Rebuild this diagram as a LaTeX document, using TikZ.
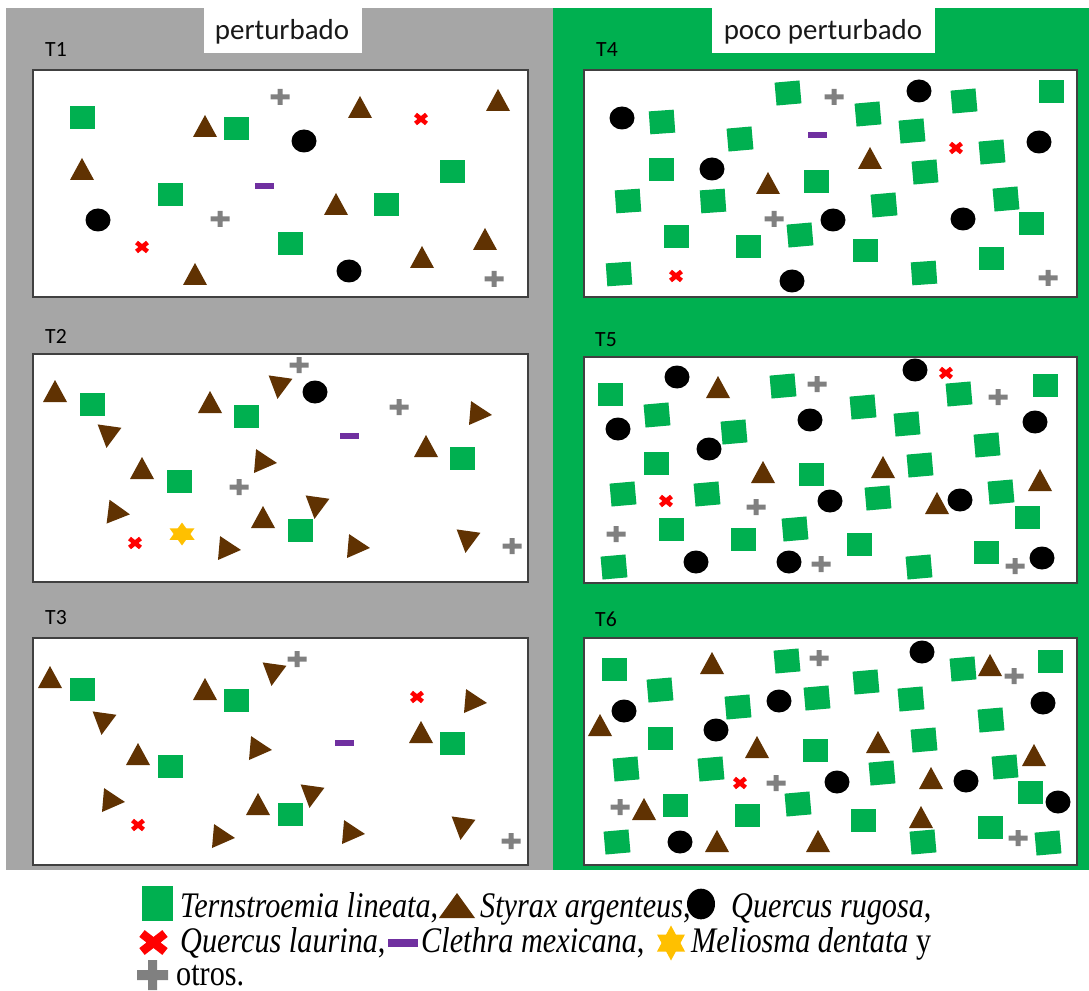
\documentclass[tikz,border=0pt]{standalone}
\usepackage{fontspec}
\usepackage{graphicx}
\setmainfont{Liberation Serif}
\newfontfamily\calfont{Carlito}
\definecolor{ternc}{RGB}{0,176,80}
\definecolor{styrc}{RGB}{96,50,2}
\definecolor{clethc}{RGB}{112,48,160}
\definecolor{melioc}{RGB}{255,192,0}
\definecolor{otrosc}{RGB}{128,128,128}
\definecolor{lauric}{RGB}{255,0,0}
\definecolor{perturbc}{RGB}{166,166,166}
\definecolor{boxc}{RGB}{64,64,64}
\newcommand{\legtext}[1]{\scalebox{0.84}[1]{#1}}

\tikzset{
  tsq/.pic={\fill[ternc] (-12.5,-11.5) rectangle (12.5,11.5);},
  ttri/.pic={\fill[styrc] (0,-11) -- (12,11) -- (-12,11) -- cycle;},
  tdot/.pic={\fill[black] (0,0) ellipse [x radius=3.75mm, y radius=3.45mm];},
  tcross/.pic={\draw[lauric, line width=1.35mm] (-5.5,-4.5) -- (5.5,4.5) (-5.5,4.5) -- (5.5,-4.5);},
  tplus/.pic={\fill[otrosc] (-9.5,-2.5) rectangle (9.5,2.5) (-2.5,-8) rectangle (2.5,8);},
  tbar/.pic={\fill[clethc] (-9.5,-3) rectangle (9.5,3);},
  tstar/.pic={\fill[melioc] (0,-11.5) -- (12.5,5.75) -- (-12.5,5.75) -- cycle;
              \fill[melioc] (0,11.5) -- (12.5,-5.75) -- (-12.5,-5.75) -- cycle;}
}

\begin{document}
\begin{tikzpicture}[x=0.3mm, y=-0.3mm,
  panel/.style={fill=white, draw=boxc, line width=0.45mm},
  title/.style={inner sep=0pt, font=\calfont\fontsize{24.7}{28}\selectfont, text=black!90},
  tlabel/.style={anchor=base west, inner sep=0pt, font=\calfont\fontsize{18.5}{20}\selectfont},
  legend/.style={anchor=base west, inner sep=0pt, font=\fontsize{30.7}{34}\selectfont}]

  \useasboundingbox (0,0) rectangle (1089,991);
  \fill[white] (0,0) rectangle (1089,991);

  % backgrounds of the two groups
  \fill[perturbc] (6,8) rectangle (553,870);
  \fill[ternc] (553,8) rectangle (1089,870);
  \fill[white] (204,8) rectangle (362,53);
  \fill[white] (712,8) rectangle (935,53);
  \node[title] (pert) at (282,32) {perturbado};
  \node[title] (poco) at (823,32) {poco perturbado};

  % plots
  \draw[panel] (33,70) rectangle (528,297);
  \draw[panel] (33,354) rectangle (528,582);
  \draw[panel] (33,638) rectangle (528,865);
  \draw[panel] (584,70) rectangle (1077,297);
  \draw[panel] (584,357) rectangle (1077,583);
  \draw[panel] (584,638) rectangle (1077,865);

  \node[tlabel] (t1) at (45,57) {T1};
  \node[tlabel] (t2) at (45,343) {T2};
  \node[tlabel] (t3) at (45,624) {T3};
  \node[tlabel] (t4) at (596,57) {T4};
  \node[tlabel] (t5) at (595,346) {T5};
  \node[tlabel] (t6) at (595,626) {T6};

  % T1
  \foreach \x/\y in {82/118, 236/129, 170/195, 452/172, 386/205, 290/244}
    \pic at (\x,\y) {tsq};
  \foreach \x/\y in {205/126, 360/107, 498/100, 82/169, 336/204, 195/274, 422/257, 485/239}
    \pic at (\x,\y) {ttri};
  \foreach \x/\y in {304/141, 98/220, 349/271}
    \pic at (\x,\y) {tdot};
  \foreach \x/\y in {280/97, 220/219, 494/279}
    \pic at (\x,\y) {tplus};
  \foreach \x/\y in {421/119, 142/247}
    \pic at (\x,\y) {tcross};
  \pic at (264,186) {tbar};

  % T2
  \foreach \x/\y in {92/404, 246/416, 462/458, 179/481, 300/530}
    \pic at (\x,\y) {tsq};
  \foreach \x/\y/\r in {55/391/0, 210/402/0, 426/446/0, 142/468/0, 263/517/0,
                        108/437/172, 279/388/172, 316/508/172, 467/542/172,
                        481/414/-95, 266/462/-95, 119/513/-97, 230/549/-95, 359/547/-95}
    \pic[rotate=\r] at (\x,\y) {ttri};
  \pic at (315,392) {tdot};
  \foreach \x/\y in {299/365, 399/407, 239/487, 512/546}
    \pic at (\x,\y) {tplus};
  \pic at (349,436) {tbar};
  \pic at (135,543) {tcross};
  \pic at (182,534) {tstar};

  % T3
  \foreach \x/\y in {82/689, 236/700, 170/766, 452/743, 290/814}
    \pic at (\x,\y) {tsq};
  \foreach \x/\y/\r in {50/677/0, 205/689/0, 138/754/0, 421/732/0, 258/804/0,
                        273/675/172, 103/724/172, 311/797/172, 462/829/172,
                        476/702/-95, 261/749/-95, 114/801/-95, 224/837/-95, 354/833/-95}
    \pic[rotate=\r] at (\x,\y) {ttri};
  \foreach \x/\y in {297/659, 511/841}
    \pic at (\x,\y) {tplus};
  \foreach \x/\y in {417/697, 138/825}
    \pic at (\x,\y) {tcross};
  \pic at (344,743) {tbar};

  % T4
  \foreach \x/\y/\r in {662/122/4, 788/93/5, 964/101/5, 1051/92/0, 740/139/5, 868/114/5,
                        912/131/5, 992/152/5, 661/170/0, 816/182/0, 925/172/5, 628/201/4,
                        713/201/4, 884/205/5, 1006/199/5, 800/235/5, 1031/224/0, 676/237/0,
                        748/247/0, 865/251/0, 991/259/0, 619/274/4, 924/273/4}
    \pic[rotate=\r] at (\x,\y) {tsq};
  \foreach \x/\y in {622/118, 919/91, 1039/142, 712/169, 833/220, 963/219, 792/281}
    \pic at (\x,\y) {tdot};
  \foreach \x/\y in {768/183, 870/158}
    \pic at (\x,\y) {ttri};
  \foreach \x/\y in {834/97, 774/219, 1048/278}
    \pic at (\x,\y) {tplus};
  \foreach \x/\y in {956/148, 676/276}
    \pic at (\x,\y) {tcross};
  \pic at (817,135) {tbar};

  % T5
  \foreach \x/\y/\r in {610/394/0, 783/386/5, 959/394/5, 1045/385/0, 657/415/5, 734/432/5,
                        863/407/5, 907/424/5, 987/445/5, 656/463/0, 811/474/0, 920/465/5,
                        623/494/5, 707/494/5, 878/498/5, 1001/492/5, 1027/517/0, 671/529/0,
                        743/539/0, 795/529/5, 859/544/0, 986/552/0, 614/567/5, 919/567/5}
    \pic[rotate=\r] at (\x,\y) {tsq};
  \foreach \x/\y in {677/377, 915/370, 618/429, 810/420, 1035/422, 709/449,
                     830/501, 960/500, 696/562, 789/562, 1042/558}
    \pic at (\x,\y) {tdot};
  \foreach \x/\y in {718/387, 763/472, 883/467, 1040/480, 937/503}
    \pic at (\x,\y) {ttri};
  \foreach \x/\y in {817/384, 998/397, 756/507, 616/534, 821/564, 1015/566}
    \pic at (\x,\y) {tplus};
  \foreach \x/\y in {946/373, 666/501}
    \pic at (\x,\y) {tcross};

  % T6
  \foreach \x/\y/\r in {614/669/0, 787/661/5, 963/669/5, 1050/661/0, 660/690/5, 738/707/5,
                        817/698/5, 866/682/5, 911/699/5, 991/720/5, 660/738/0, 815/750/0,
                        924/740/5, 626/769/5, 711/769/5, 882/773/5, 1005/767/5, 1030/792/0,
                        675/805/0, 747/815/0, 798/804/5, 863/820/0, 990/827/0, 617/842/5,
                        923/842/5, 1048/843/5}
    \pic[rotate=\r] at (\x,\y) {tsq};
  \foreach \x/\y in {922/652, 624/711, 779/701, 1043/703, 716/730, 837/782,
                     966/781, 1058/802, 680/842}
    \pic at (\x,\y) {tdot};
  \foreach \x/\y in {712/663, 990/665, 600/725, 757/747, 878/742, 1034/755,
                     931/778, 644/809, 921/817, 717/841, 818/841}
    \pic at (\x,\y) {ttri};
  \foreach \x/\y in {819/658, 1014/676, 776/783, 620/807, 1018/838}
    \pic at (\x,\y) {tplus};
  \pic at (740,783) {tcross};

  % legend
  \fill[ternc] (142,886) rectangle (173,921);
  \fill[styrc] (457,893) -- (475,918) -- (439,918) -- cycle;
  \fill[black] (701,904) ellipse [x radius=4.2mm, y radius=4.6mm];
  \draw[lauric, line width=2.6mm] (142,933.5) -- (165,951.5) (142,951.5) -- (165,933.5);
  \fill[clethc] (388,939) rectangle (418,947);
  \fill[melioc] (671,925.5) -- (685,951.5) -- (657,951.5) -- cycle;
  \fill[melioc] (671,960.5) -- (685,934.5) -- (657,934.5) -- cycle;
  \fill[otrosc] (137,970) rectangle (168,980) (148,960) rectangle (157,990);

  \node[legend] (leg-tern) at (180,917) {\legtext{\textit{Ternstroemia lineata},}};
  \node[legend] (leg-styr) at (480,917) {\legtext{\textit{Styrax argenteus},}};
  \node[legend] (leg-rug) at (731,917) {\legtext{\textit{Quercus rugosa},}};
  \node[legend] (leg-laur) at (180,952) {\legtext{\textit{Quercus laurina},}};
  \node[legend] (leg-cleth) at (421,952) {\legtext{\textit{Clethra mexicana},}};
  \node[legend] (leg-meli) at (691,952) {\legtext{\textit{Meliosma dentata} y}};
  \node[legend] (leg-otros) at (176,985) {\legtext{otros.}};

\end{tikzpicture}
\end{document}
